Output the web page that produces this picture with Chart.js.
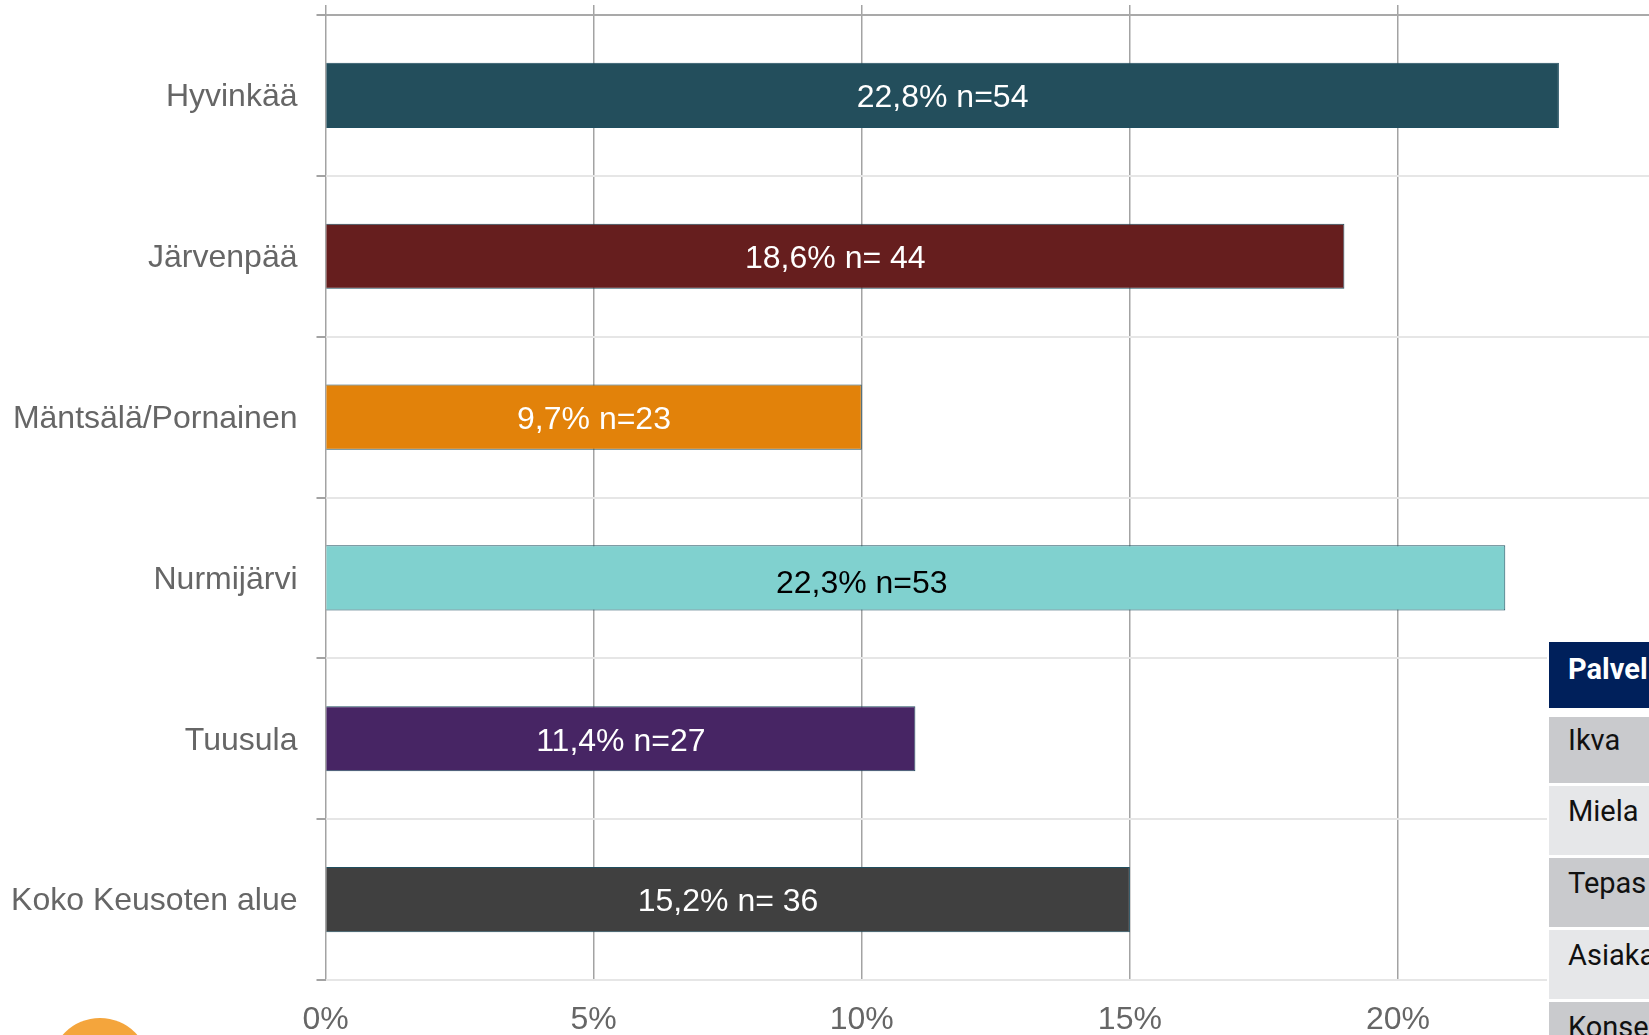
<!DOCTYPE html>
<html>
<head>
<meta charset="utf-8">
<title>Keusote</title>
<script src="https://cdn.jsdelivr.net/npm/chart.js@4/dist/chart.umd.min.js"></script>
<style>
html, body { margin: 0; height: 100%; overflow: hidden; background: #fff; }
#kuva { position: absolute; left: 0; top: 0; }
#taulu { position: absolute; left: 1547px; top: 640px; width: 102px; height: 395px; background: #fff; overflow: hidden; font: 29px Roboto, sans-serif; color: #111; }
#taulu div { position: absolute; left: 2px; width: 100px; height: 69px; padding-left: 19px; box-sizing: border-box; line-height: 50px; white-space: nowrap; overflow: hidden; }
#pallo { position: absolute; left: 50px; top: 1018px; width: 100px; height: 100px; border-radius: 50%; background: #f4a53c; }
</style>
</head>
<body>
<canvas id="kuva" width="1649" height="1035"></canvas>
<div id="taulu"></div>
<div id="pallo"></div>
<script>
const alueet = ['Hyvinkää', 'Järvenpää', 'Mäntsälä/Pornainen', 'Nurmijärvi', 'Tuusula', 'Koko Keusoten alue'];
const arvot = [23, 19, 10, 22, 11, 15];
const tekstit = ['22,8% n=54', '18,6% n= 44', '9,7% n=23', '22,3% n=53', '11,4% n=27', '15,2% n= 36'];
const varit = ['#234e5c', '#661e1e', '#e2820a', '#80d1cf', '#472564', '#404040'];
const tekstiVarit = ['#fff', '#fff', '#fff', '#000', '#fff', '#fff'];
const rivit = ['Palvel', 'Ikva', 'Miela', 'Tepas', 'Asiaka', 'Konse'];

const fontti = { family: '"Liberation Sans", Arial, sans-serif', size: 32 };

// arvotekstit palkkien keskelle, Nurmijärven teksti on kuvassa vasemmalla ja alempana
const palkkiTekstit = {
    id: 'palkkiTekstit',
    afterDatasetsDraw(chart) {
        const ctx = chart.ctx;
        ctx.save();
        ctx.font = `${fontti.size}px ${fontti.family}`;
        ctx.textAlign = 'center';
        ctx.textBaseline = 'middle';
        chart.getDatasetMeta(0).data.forEach((bar, i) => {
            const x = (bar.x + bar.base) / 2 + (i === 3 ? -54 : 0);
            const y = bar.y + (i === 3 ? 6 : 3);
            ctx.fillStyle = tekstiVarit[i];
            ctx.fillText(tekstit[i], x, y);
        });
        ctx.restore();
    }
};

new Chart(document.getElementById('kuva'), {
    type: 'bar',
    data: {
        labels: alueet,
        datasets: [{
            data: arvot,
            backgroundColor: varit,
            borderColor: '#1f4e5f',
            borderWidth: 1,
            categoryPercentage: 1,
            barPercentage: 0.405
        }]
    },
    plugins: [palkkiTekstit],
    options: {
        indexAxis: 'y',
        responsive: false,
        animation: false,
        layout: { padding: { top: 5, left: 0, right: 0, bottom: 0 } },
        plugins: { legend: { display: false }, tooltip: { enabled: false } },
        scales: {
            x: {
                min: 0,
                max: 24.68,
                border: { display: false },
                grid: { color: '#a3a3a3', lineWidth: 1.5, drawTicks: false },
                ticks: { stepSize: 5, includeBounds: false, maxRotation: 0, padding: 21, color: '#666', font: fontti, callback: v => v + '%' },
                afterFit: s => { s.height = 55; }
            },
            xYla: {
                axis: 'x',
                position: 'top',
                min: 0,
                max: 24.68,
                border: { display: false },
                grid: { color: '#a3a3a3', lineWidth: 1.5, tickLength: 10, drawOnChartArea: false },
                ticks: { stepSize: 5, includeBounds: false, display: false },
                afterFit: s => { s.height = 10; }
            },
            y: {
                border: { display: false },
                grid: {
                    offset: true,
                    color: c => c.index === 0 ? '#a9a9a9' : '#e6e6e6',
                    tickColor: '#a3a3a3',
                    lineWidth: 2,
                    tickLength: 9
                },
                ticks: { padding: 19, labelOffset: 2, color: '#666', font: fontti, autoSkip: false },
                afterFit: s => { s.width = 325.5; s.paddingTop = 0; s.paddingBottom = 0; }
            }
        }
    }
});

const taulu = document.getElementById('taulu');
rivit.forEach((t, i) => {
    const d = document.createElement('div');
    d.textContent = t;
    d.style.top = (i === 0 ? 2 : i === 1 ? 77 : 74 + (i - 1) * 72) + 'px';
    if (i < 2) { d.style.height = '66px'; }
    d.style.background = i === 0 ? '#00205b' : (i % 2 ? '#c9cacd' : '#e6e7e9');
    if (i === 0) { d.style.color = '#fff'; d.style.fontWeight = '700'; d.style.lineHeight = '54px'; }
    if (i === 1) { d.style.lineHeight = '46px'; }
    taulu.appendChild(d);
});
</script>
</body>
</html>
